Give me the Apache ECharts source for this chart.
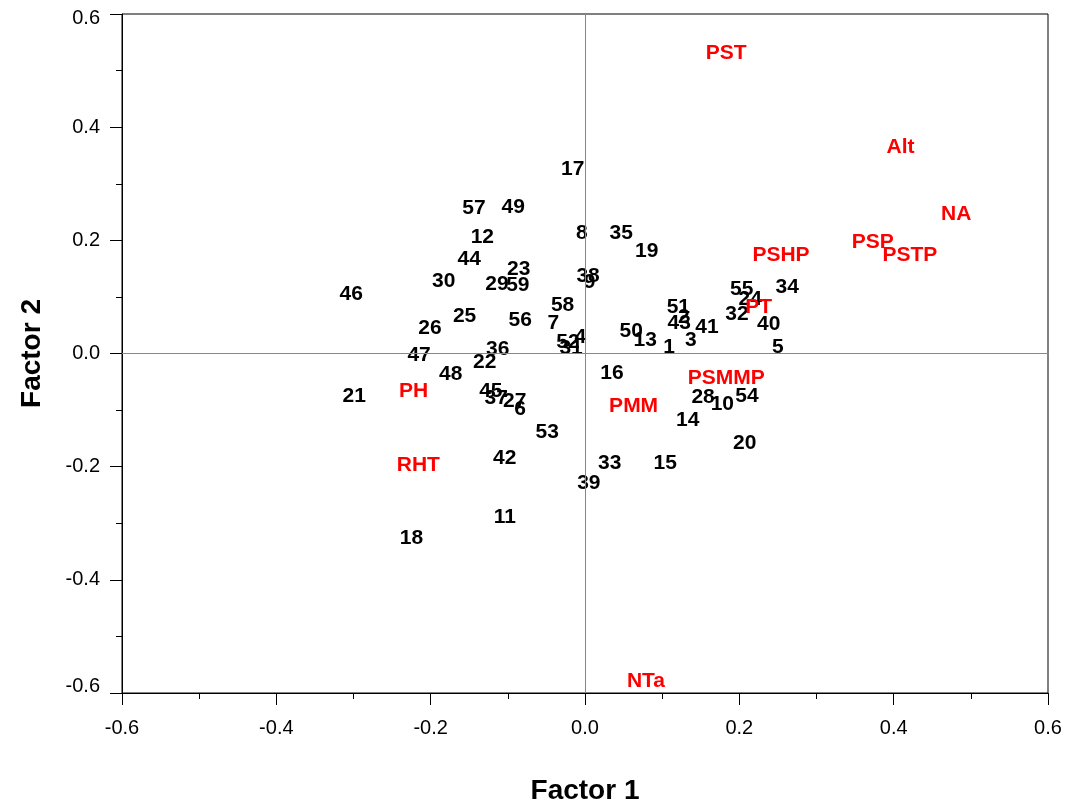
<!DOCTYPE html>
<html>
<head>
<meta charset="utf-8">
<script src="https://cdn.jsdelivr.net/npm/echarts@6/dist/echarts.min.js"></script>
<style>
  html, body { margin: 0; padding: 0; background: #fff; }
  #chart { width: 1070px; height: 803px; }
</style>
</head>
<body>
<div id="chart"></div>
<script>
// sample scores (black numbers)
const siteNames = ["17", "57", "49", "12", "8", "35", "19", "44", "23", "30", "29", "59", "38", "9",
  "46", "58", "25", "56", "7", "26", "52", "31", "4", "47", "36", "22", "48", "21", "45", "37", "27",
  "6", "53", "42", "11", "18", "16", "33", "39", "15", "14", "28", "10", "54", "20", "50", "13", "1",
  "3", "41", "51", "2", "43", "55", "24", "32", "34", "40", "5"];
const siteX = [-0.016, -0.144, -0.093, -0.133, -0.004, 0.047, 0.080, -0.150, -0.086, -0.183, -0.114, -0.087, 0.004, 0.006,
  -0.303, -0.029, -0.156, -0.084, -0.041, -0.201, -0.022, -0.018, -0.006, -0.215, -0.113, -0.130, -0.174, -0.299, -0.122, -0.115, -0.091,
  -0.084, -0.049, -0.104, -0.104, -0.225, 0.035, 0.032, 0.005, 0.104, 0.133, 0.153, 0.178, 0.210, 0.207, 0.060, 0.078, 0.109,
  0.137, 0.158, 0.121, 0.128, 0.122, 0.203, 0.214, 0.197, 0.262, 0.238, 0.250];
const siteY = [0.320, 0.251, 0.253, 0.200, 0.207, 0.207, 0.175, 0.161, 0.143, 0.122, 0.118, 0.115, 0.131, 0.120,
  0.099, 0.080, 0.060, 0.053, 0.049, 0.039, 0.014, 0.004, 0.023, -0.009, 0.002, -0.021, -0.042, -0.080, -0.072, -0.085, -0.090,
  -0.103, -0.145, -0.191, -0.295, -0.332, -0.041, -0.200, -0.235, -0.200, -0.124, -0.083, -0.095, -0.081, -0.164, 0.034, 0.019, 0.005,
  0.019, 0.041, 0.076, 0.058, 0.048, 0.108, 0.090, 0.064, 0.111, 0.046, 0.005];

// variable loadings (red labels)
const varNames = ["PST", "Alt", "NA", "PSP", "PSTP", "PSHP", "PT", "PSMMP", "PMM", "PH", "RHT", "NTa"];
const varX = [0.183, 0.409, 0.481, 0.373, 0.421, 0.254, 0.225, 0.183, 0.063, -0.222, -0.216, 0.079];
const varY = [0.525, 0.359, 0.240, 0.191, 0.168, 0.168, 0.076, -0.049, -0.099, -0.072, -0.203, -0.585];

const chart = echarts.init(document.getElementById("chart"));

const FONT = "Liberation Sans, Arial, sans-serif";
const labelFont = { fontFamily: FONT, fontWeight: "bold", fontSize: 21 };

const axisCommon = {
  type: "value",
  min: -0.6,
  max: 0.6,
  interval: 0.2,
  nameLocation: "middle",
  nameTextStyle: { fontFamily: FONT, fontWeight: "bold", fontSize: 28, color: "#000" },
  axisLine: { show: true, onZero: false, lineStyle: { color: "#000", width: 1 } },
  axisTick: { show: true, inside: false, length: 12, lineStyle: { color: "#000" } },
  minorTick: { show: true, splitNumber: 2, length: 6, lineStyle: { color: "#000" } },
  splitLine: { show: false },
  axisLabel: {
    color: "#000",
    fontFamily: FONT,
    fontSize: 20,
    formatter: v => v.toFixed(1)
  }
};

const option = {
  animation: false,
  backgroundColor: "#fff",
  grid: {
    left: 122, right: 22, top: 14, bottom: 110,
    outerBoundsMode: "none",
    show: true, borderColor: "#000", borderWidth: 1
  },
  xAxis: Object.assign({}, axisCommon, {
    name: "Factor 1",
    nameGap: 84,
    axisLabel: Object.assign({}, axisCommon.axisLabel, { margin: 25 })
  }),
  yAxis: Object.assign({}, axisCommon, {
    name: "Factor 2",
    nameGap: 76,
    axisLabel: Object.assign({}, axisCommon.axisLabel, {
      margin: 22,
      // end labels sit slightly inside the frame, as in the original
      formatter: v => {
        const s = v.toFixed(1);
        if (v >= 0.59) return "{top|" + s + "}";
        if (v <= -0.59) return "{bot|" + s + "}";
        return s;
      },
      rich: {
        top: { fontSize: 20, fontFamily: FONT, color: "#000", padding: [9, 0, 0, 0] },
        bot: { fontSize: 20, fontFamily: FONT, color: "#000", padding: [0, 0, 13, 0] }
      }
    })
  }),
  series: [
    {
      type: "scatter",
      symbolSize: 0,
      itemStyle: { opacity: 1 },
      data: siteNames.map((n, i) => [siteX[i], siteY[i], n]),
      label: Object.assign({ show: true, position: "inside", offset: [0, -3], color: "#000", formatter: p => p.value[2] }, labelFont),
      markLine: {
        silent: true,
        symbol: "none",
        label: { show: false },
        lineStyle: { color: "#888", type: "solid", width: 1, opacity: 1 },
        data: [{ xAxis: 0 }, { yAxis: 0 }]
      },
      z: 3
    },
    {
      type: "scatter",
      symbolSize: 0,
      itemStyle: { opacity: 1 },
      data: varNames.map((n, i) => [varX[i], varY[i], n]),
      label: Object.assign({ show: true, position: "inside", offset: [0, -3], color: "#ff0000", formatter: p => p.value[2] }, labelFont),
      z: 4
    }
  ]
};

chart.setOption(option);
</script>
</body>
</html>
